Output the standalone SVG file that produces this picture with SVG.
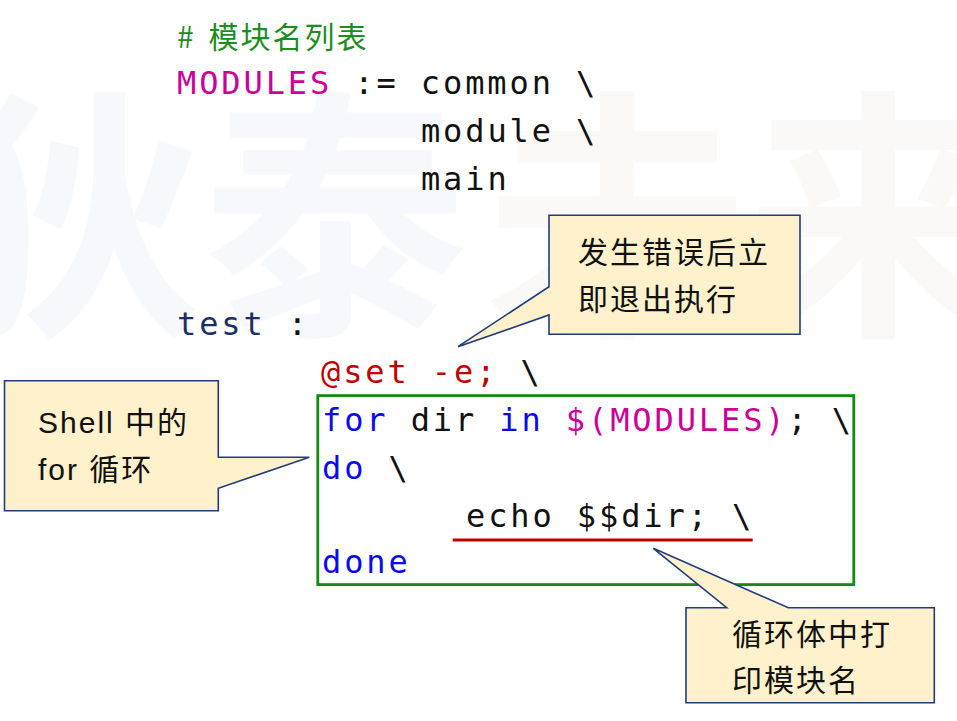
<svg xmlns="http://www.w3.org/2000/svg" width="957" height="721" viewBox="0 0 957 721">
  <style>
    .wm { font-family: "Noto Sans CJK SC", sans-serif; font-weight: 700; font-size: 265px; text-anchor: middle; }
    .code { font-family: "DejaVu Sans Mono", "Liberation Mono", monospace; font-size: 32px; letter-spacing: 2.9px; fill: #111111; }
    .mag { fill: #cc0099; }
    .kw { fill: #0a0af0; }
    .red { fill: #c00000; }
    .navy { fill: #1b2f66; }
    .cmt { font-family: "Noto Sans CJK SC", "Liberation Sans", sans-serif; font-size: 30px; letter-spacing: 2px; fill: #1e8c1e; }
    .call { fill: #fef1cb; stroke: #1f3d7a; stroke-width: 1.6; stroke-linejoin: miter; }
    .ctext { font-family: "Liberation Sans", "Noto Sans CJK SC", sans-serif; font-size: 30px; letter-spacing: 2px; fill: #111111; }
  </style>
  <rect x="0" y="0" width="957" height="721" fill="#ffffff"/>

  <g id="watermark">
    <text class="wm" x="70" y="316" fill="#f7f8fc">狄</text>
    <text class="wm" x="335" y="316" fill="#f7f8fc">泰</text>
    <text class="wm" x="617" y="316" fill="#fbf8f8">未</text>
    <text class="wm" x="878" y="316" fill="#fbf8f8">来</text>
  </g>

  <g id="code">
    <text class="cmt" x="177" y="48">#<tspan dx="4"> </tspan>模块名列表</text>
    <text class="code" x="177" y="93.5"><tspan class="mag">MODULES</tspan> := common \</text>
    <text class="code" x="420.9" y="141.7">module \</text>
    <text class="code" x="420.9" y="190">main</text>
    <text class="code" x="177" y="335"><tspan class="navy">test</tspan> :</text>
    <text class="code" x="321" y="382.7"><tspan class="red">@set -e;</tspan> \</text>
    <text class="code" x="322" y="430.7"><tspan class="kw">for</tspan> dir <tspan class="kw">in</tspan> <tspan class="mag">$(MODULES)</tspan>; \</text>
    <text class="code" x="322" y="479.3"><tspan class="kw">do</tspan> \</text>
    <text class="code" x="466" y="526.7">echo $$dir; \</text>
    <text class="code kw" x="322" y="573.3">done</text>
  </g>

  <g id="connectors">
    <rect id="loop-box" x="317.8" y="395.6" width="536" height="189" fill="none" stroke="#138a13" stroke-width="2.8"/>
    <line id="echo-underline" x1="452.7" y1="540" x2="752.7" y2="540" stroke="#c00000" stroke-width="3"/>
  </g>

  <g id="callout-error">
    <path class="call" d="M549,215.3 H800 V334.3 H549 V315 L458,346.7 L549,286.7 Z"/>
    <text class="ctext" x="578" y="263">发生错误后立</text>
    <text class="ctext" x="578" y="309.5">即退出执行</text>
  </g>

  <g id="callout-for">
    <path class="call" d="M4.5,380.7 H218.3 V457.3 L309.3,457.3 L218.3,488.3 V510.7 H4.5 Z"/>
    <text class="ctext" x="38" y="433" letter-spacing="0.5">Shell 中的</text>
    <text class="ctext" x="38" y="479.5" letter-spacing="0.5">for 循环</text>
  </g>

  <g id="callout-body">
    <path class="call" d="M686,607.7 H726.7 L653.3,548.3 L788.3,607.7 H934.3 V702.7 H686 Z"/>
    <text class="ctext" x="732" y="644.5">循环体中打</text>
    <text class="ctext" x="732" y="691">印模块名</text>
  </g>
</svg>
